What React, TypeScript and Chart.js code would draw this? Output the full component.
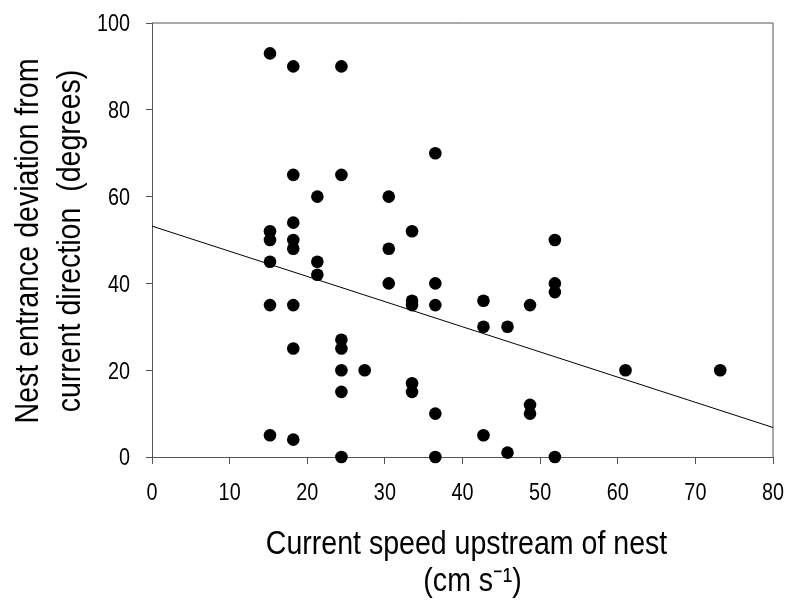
import React, { useEffect, useRef } from "react";
import { Chart, registerables } from "chart.js";

Chart.register(...registerables);

// Current speed upstream of nest (cm s-1)
const speeds: number[] = [
  15.2, 15.2, 15.2, 15.2, 15.2, 15.2,
  18.2, 18.2, 18.2, 18.2, 18.2, 18.2, 18.2, 18.2,
  21.3, 21.3, 21.3,
  24.4, 24.4, 24.4, 24.4, 24.4, 24.4, 24.4,
  27.4,
  30.5, 30.5, 30.5,
  33.5, 33.5, 33.5, 33.5, 33.5,
  36.5, 36.5, 36.5, 36.5, 36.5,
  42.7, 42.7, 42.7,
  45.8, 45.8,
  48.7, 48.7, 48.7,
  51.9, 51.9, 51.9, 51.9,
  61.0,
  73.2,
];

// Nest entrance deviation from current direction (degrees)
const deviations: number[] = [
  93, 52, 50, 45, 35, 5,
  90, 65, 54, 50, 48, 35, 25, 4,
  60, 45, 42,
  90, 65, 27, 25, 20, 15, 0,
  20,
  60, 48, 40,
  52, 36, 35, 17, 15,
  70, 40, 35, 10, 0,
  36, 30, 5,
  30, 1,
  35, 12, 10,
  50, 40, 38, 0,
  20,
  20,
];

// Linear regression fit
const fitIntercept = 53.2;
const fitSlope = -0.58;

const xRange = [0, 80];
const yRange = [0, 100];
const xStep = 10;
const yStep = 20;

const xTitle = ["Current speed upstream of nest", "(cm s\u207B\u00B9)"];
const yTitle = ["Nest entrance deviation from", "current direction  (degrees)"];

const FONT = "'Liberation Sans', Arial, sans-serif";
const AXIS = "#555";
const TICK_SIZE = 23;
const TICK_SX = 0.86;
const TITLE_SIZE = 33;
const TITLE_SX = 0.865;

function narrowText(
  ctx: CanvasRenderingContext2D,
  text: string,
  x: number,
  y: number,
  sx: number,
  align: CanvasTextAlign,
  rotate = 0
) {
  ctx.save();
  ctx.translate(x, y);
  if (rotate) ctx.rotate(rotate);
  ctx.scale(sx, 1);
  ctx.textAlign = align;
  ctx.textBaseline = "alphabetic";
  ctx.fillText(text, 0, 0);
  ctx.restore();
}

const framePlugin = {
  id: "frame",
  beforeDatasetsDraw(chart: any) {
    const { ctx, chartArea } = chart;
    const { left, top, right, bottom } = chartArea;
    ctx.save();
    ctx.strokeStyle = AXIS;
    ctx.lineWidth = 1;
    ctx.beginPath();
    ctx.moveTo(left, top);
    ctx.lineTo(right, top);
    ctx.lineTo(right, bottom);
    ctx.stroke();
    ctx.restore();
  },
};

const textPlugin = {
  id: "narrowText",
  afterDraw(chart: any) {
    const { ctx, chartArea } = chart;
    const xs = chart.scales.x;
    const ys = chart.scales.y;
    ctx.save();
    ctx.fillStyle = "#000";
    ctx.font = `${TICK_SIZE}px ${FONT}`;
    xs.ticks.forEach((t: any) => {
      const px = xs.getPixelForValue(t.value);
      narrowText(ctx, String(t.value), px, chartArea.bottom + 43, TICK_SX, "center");
    });
    ys.ticks.forEach((t: any) => {
      const py = ys.getPixelForValue(t.value);
      narrowText(ctx, String(t.value), chartArea.left - 22, py + 8.3, TICK_SX, "right");
    });
    ctx.font = `${TITLE_SIZE}px ${FONT}`;
    const cx = (chartArea.left + chartArea.right) / 2;
    narrowText(ctx, xTitle[0], cx + 4, chartArea.bottom + 97, TITLE_SX, "center");
    narrowText(ctx, xTitle[1], cx + 10, chartArea.bottom + 134, TITLE_SX, "center");
    const cy = (chartArea.top + chartArea.bottom) / 2;
    narrowText(ctx, yTitle[0], 38, cy + 1, TITLE_SX, "center", -Math.PI / 2);
    narrowText(ctx, yTitle[1], 80, cy + 1, TITLE_SX, "center", -Math.PI / 2);
    ctx.restore();
  },
};

export default function App() {
  const ref = useRef<HTMLCanvasElement | null>(null);

  useEffect(() => {
    document.body.style.margin = "0";
    const canvas = ref.current;
    if (!canvas) return;
    const points = speeds.map((s, i) => ({ x: s, y: deviations[i] }));
    const fit = xRange.map((x) => ({ x, y: fitIntercept + fitSlope * x }));

    const chart = new Chart(canvas, {
      type: "scatter",
      data: {
        datasets: [
          {
            type: "line",
            data: fit,
            borderColor: "#000",
            borderWidth: 1,
            pointRadius: 0,
            showLine: true,
            fill: false,
          } as any,
          {
            data: points,
            backgroundColor: "#000",
            borderColor: "#000",
            borderWidth: 0,
            pointRadius: 6.3,
            pointHoverRadius: 6.3,
            clip: false,
          } as any,
        ],
      },
      plugins: [framePlugin, textPlugin],
      options: {
        responsive: false,
        animation: false,
        events: [],
        layout: { padding: { left: 0, top: 23, right: 17, bottom: 0 } },
        plugins: {
          legend: { display: false },
          tooltip: { enabled: false },
        },
        scales: {
          x: {
            type: "linear",
            min: xRange[0],
            max: xRange[1],
            afterFit: (s: any) => {
              s.height = 155;
            },
            ticks: { stepSize: xStep, display: false },
            grid: {
              display: true,
              drawOnChartArea: false,
              drawTicks: true,
              tickLength: 7,
              color: AXIS,
            },
            border: { display: true, color: AXIS, width: 1 },
            title: { display: false },
          },
          y: {
            type: "linear",
            min: yRange[0],
            max: yRange[1],
            afterFit: (s: any) => {
              s.width = 152;
            },
            ticks: { stepSize: yStep, display: false },
            grid: {
              display: true,
              drawOnChartArea: false,
              drawTicks: true,
              tickLength: 6,
              color: AXIS,
            },
            border: { display: true, color: AXIS, width: 1 },
            title: { display: false },
          },
        },
      },
    });
    return () => chart.destroy();
  }, []);

  return (
    <div style={{ width: 790, height: 612 }}>
      <canvas ref={ref} width={790} height={612} style={{ display: "block" }} />
    </div>
  );
}
